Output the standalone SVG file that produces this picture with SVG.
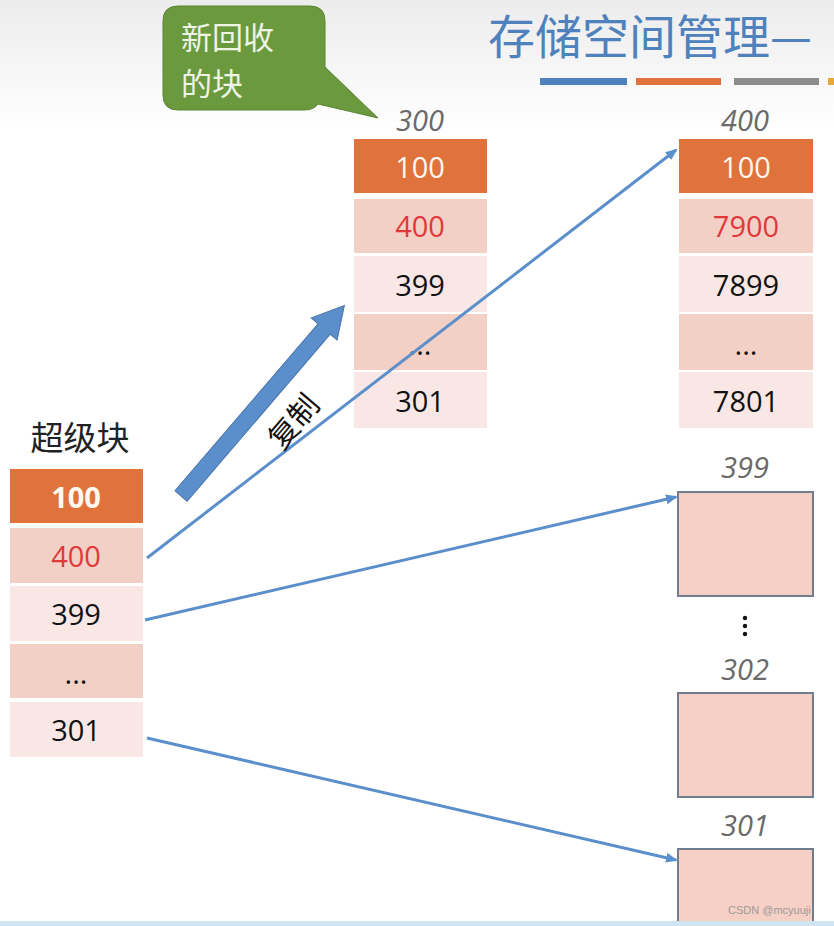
<svg xmlns="http://www.w3.org/2000/svg" width="834" height="926" viewBox="0 0 834 926">
<defs>
<linearGradient id="bg" x1="0" y1="0" x2="0" y2="1">
<stop offset="0" stop-color="#ececec"/><stop offset="1" stop-color="#ffffff"/>
</linearGradient>
<marker id="ah" markerWidth="12" markerHeight="12" refX="10" refY="6" orient="auto" markerUnits="userSpaceOnUse">
<path d="M0,1 L12,6 L0,11 z" fill="#5b8fcc"/>
</marker>
<style>
.num{font-family:"Open Sans","Liberation Sans",sans-serif;font-size:29px;text-anchor:middle;dominant-baseline:central}
.w{fill:#fff8f0}.r{fill:#e0393b}.k{fill:#111}
.or{fill:#e0733c}.pd{fill:#f3d0c6}.pl{fill:#f8e7e4}
.hd{font-family:"Open Sans","Liberation Sans",sans-serif;font-size:29px;font-style:italic;fill:#6a6a6a;text-anchor:middle}
.blk{fill:#f6d0c4;stroke:#707d90;stroke-width:2}
.ln{stroke:#5b8fcc;stroke-width:3;fill:none;marker-end:url(#ah)}
.cjk{font-family:"Noto Sans CJK SC",sans-serif}
</style>
</defs>
<rect x="0" y="0" width="834" height="926" fill="#fff"/>
<rect x="0" y="0" width="834" height="130" fill="url(#bg)"/>

<g id="title">
<text x="488" y="54" class="cjk" font-size="47" fill="#4f81bd">存储空间管理—</text>
<rect x="540" y="78" width="87" height="7" fill="#4f81bd"/>
<rect x="636" y="78" width="85" height="7" fill="#e0733c"/>
<rect x="734" y="78" width="85" height="7" fill="#8c8c8c"/>
<rect x="828" y="78" width="10" height="7" fill="#e6a83a"/>
</g>

<g id="callout">
<path d="M178,6 H310 Q325,6 325,21 V67 L378,118 L318,104 Q314,110 304,110 H178 Q163,110 163,95 V21 Q163,6 178,6 Z" fill="#6b9a3e" stroke="#5a8433" stroke-width="1"/>
<text x="181" y="49" class="cjk" font-size="31" fill="#eef3e6">新回收</text>
<text x="181" y="95" class="cjk" font-size="31" fill="#eef3e6">的块</text>
</g>

<g id="superblock">
<text x="80" y="450" class="cjk" font-size="33" fill="#222" text-anchor="middle">超级块</text>
<rect x="10" y="469" width="133" height="54" class="or"/>
<rect x="10" y="528" width="133" height="55" class="pd"/>
<rect x="10" y="586" width="133" height="55" class="pl"/>
<rect x="10" y="644" width="133" height="54" class="pd"/>
<rect x="10" y="702" width="133" height="55" class="pl"/>
<text x="76" y="496" class="num w" font-weight="bold">100</text>
<text x="76" y="555" class="num r">400</text>
<text x="76" y="613" class="num k">399</text>
<text x="76" y="672" class="num k">...</text>
<text x="76" y="729" class="num k">301</text>
</g>

<g id="block300">
<text x="420" y="131" class="hd">300</text>
<rect x="354" y="139" width="133" height="54" class="or"/>
<rect x="354" y="199" width="133" height="54" class="pd"/>
<rect x="354" y="256" width="133" height="56" class="pl"/>
<rect x="354" y="314" width="133" height="56" class="pd"/>
<rect x="354" y="372" width="133" height="56" class="pl"/>
<text x="420" y="166" class="num w">100</text>
<text x="420" y="225" class="num r">400</text>
<text x="420" y="284" class="num k">399</text>
<text x="420" y="343" class="num k">...</text>
<text x="420" y="400" class="num k">301</text>
</g>

<g id="block400">
<text x="745" y="131" class="hd">400</text>
<rect x="679" y="139" width="134" height="54" class="or"/>
<rect x="679" y="199" width="134" height="54" class="pd"/>
<rect x="679" y="256" width="134" height="56" class="pl"/>
<rect x="679" y="314" width="134" height="56" class="pd"/>
<rect x="679" y="372" width="134" height="56" class="pl"/>
<text x="746" y="166" class="num w">100</text>
<text x="746" y="225" class="num r">7900</text>
<text x="746" y="284" class="num k">7899</text>
<text x="746" y="343" class="num k">...</text>
<text x="746" y="400" class="num k">7801</text>
</g>

<g id="block399">
<text x="745" y="478" class="hd">399</text>
<rect x="678" y="492" width="135" height="104" class="blk"/>
</g>
<g id="dots">
<circle cx="745" cy="618" r="2.2" fill="#111"/>
<circle cx="745" cy="626" r="2.2" fill="#111"/>
<circle cx="745" cy="634" r="2.2" fill="#111"/>
</g>
<g id="block302">
<text x="745" y="680" class="hd">302</text>
<rect x="678" y="693" width="135" height="104" class="blk"/>
</g>
<g id="block301">
<text x="745" y="836" class="hd">301</text>
<rect x="678" y="849" width="135" height="90" class="blk"/>
</g>

<g id="connectors">
<line x1="147" y1="558" x2="676" y2="150" class="ln"/>
<line x1="145" y1="620" x2="676" y2="497" class="ln"/>
<line x1="147" y1="738" x2="676" y2="860" class="ln"/>
<g transform="translate(181,496) rotate(-49.4)">
<polygon points="0,-8 220,-8 220,-17 251,0 220,17 220,8 0,8" fill="#5b8fcc" stroke="#4672a8" stroke-width="1"/>
</g>
<text x="0" y="0" class="cjk" font-size="30" fill="#111" text-anchor="middle" dominant-baseline="central" transform="translate(292,420) rotate(-49.4)">复制</text>
</g>

<rect x="0" y="921" width="834" height="5" fill="#cfe6f2"/>
<text x="728" y="914" font-family="Liberation Sans,sans-serif" font-size="11" fill="#9a9a9a">CSDN @mcyuuji</text>
</svg>
